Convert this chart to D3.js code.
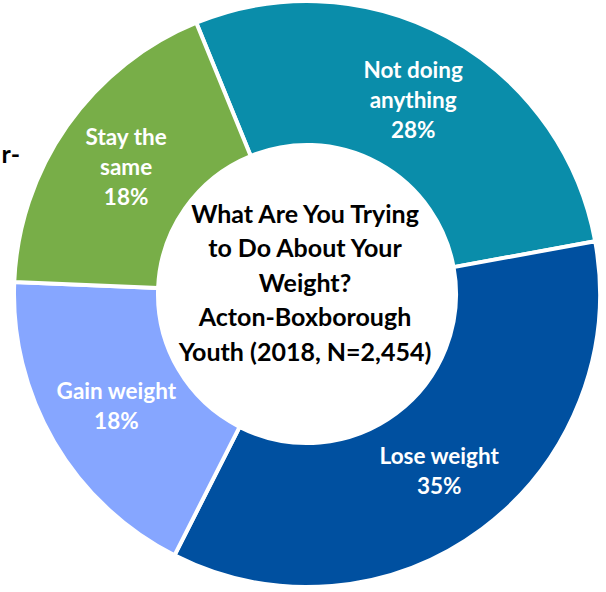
<!DOCTYPE html>
<html>
<head>
<meta charset="utf-8">
<script src="https://cdn.jsdelivr.net/npm/d3@7"></script>
<style>
  html, body { margin: 0; padding: 0; background: #fff; }
  svg { display: block; }
</style>
</head>
<body>
<svg id="chart" width="606" height="592"></svg>
<script>
// Responses, drawn clockwise from the top-left boundary
const categories = ["Not doing anything", "Lose weight", "Gain weight", "Stay the same"];
const values = [28, 35, 18, 18];
const labelLines = [["Not doing", "anything"], ["Lose weight"], ["Gain weight"], ["Stay the", "same"]];
const colors = ["#0A8DAA", "#0050A0", "#86A6FF", "#78AE48"];
const titleLines = ["What Are You Trying", "to Do About Your", "Weight?", "Acton-Boxborough", "Youth (2018, N=2,454)"];

const svg = d3.select("#chart");
const cx = 307, cy = 294, outerR = 293, innerR = 149;
const font = "Lato, 'Open Sans', sans-serif";

const start = -22.2 * Math.PI / 180;
const pie = d3.pie().sort(null).value(d => d).startAngle(start).endAngle(start + 2 * Math.PI);
const arc = d3.arc().innerRadius(innerR).outerRadius(outerR);
const labelArc = d3.arc().innerRadius((innerR + outerR) / 2).outerRadius((innerR + outerR) / 2);

const g = svg.append("g").attr("transform", `translate(${cx},${cy})`);
const arcs = pie(values);

g.selectAll("path.slice")
  .data(arcs)
  .join("path")
  .attr("class", "slice")
  .attr("d", arc)
  .attr("fill", (d, i) => colors[i])
  .attr("stroke", "#fff")
  .attr("stroke-width", 4)
  .attr("stroke-linejoin", "round");

// Slice labels: name lines followed by the percentage
const lineH = 30;
arcs.forEach((d, i) => {
  const [x, y] = labelArc.centroid(d);
  const lines = labelLines[i].concat([values[i] + "%"]);
  const t = g.append("text")
    .attr("text-anchor", "middle")
    .attr("font-family", font)
    .attr("font-weight", "bold")
    .attr("font-size", 22.5)
    .attr("fill", "#fff");
  lines.forEach((ln, k) => {
    t.append("tspan")
      .attr("x", x)
      .attr("y", y + (k - (lines.length - 1) / 2) * lineH)
      .attr("dy", "0.35em")
      .text(ln);
  });
});

// Centre title
const title = svg.append("text")
  .attr("text-anchor", "middle")
  .attr("font-family", font)
  .attr("font-weight", "bold")
  .attr("font-size", 25)
  .attr("fill", "#000");
titleLines.forEach((ln, k) => {
  title.append("tspan")
    .attr("x", 305)
    .attr("y", 283 + (k - 2) * 34.5)
    .attr("dy", "0.35em")
    .text(ln);
});

// Fragment of a neighbouring label at the left edge
svg.append("text")
  .attr("x", 20)
  .attr("y", 163)
  .attr("text-anchor", "end")
  .attr("font-family", font)
  .attr("font-weight", "bold")
  .attr("font-size", 25)
  .attr("fill", "#000")
  .text("r-");
</script>
</body>
</html>
